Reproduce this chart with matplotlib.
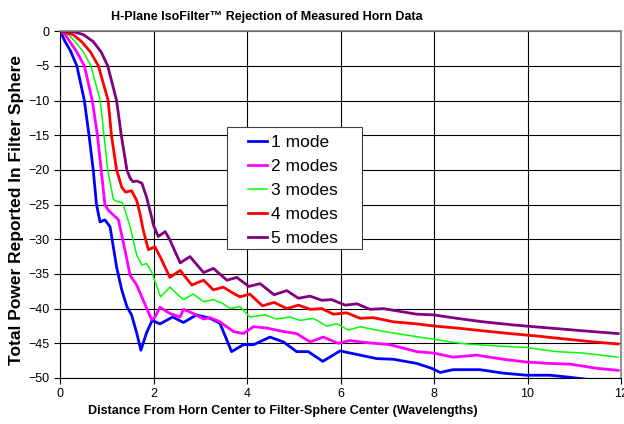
import matplotlib
matplotlib.use("Agg")
import matplotlib.pyplot as plt
from matplotlib.patches import Rectangle

plt.rcParams['font.family'] = ['Liberation Sans', 'DejaVu Sans']

x1 = [0, 0.04, 0.107, 0.22, 0.36, 0.52, 0.62, 0.71, 0.78, 0.856, 0.96, 1.07, 1.21, 1.32, 1.43,
      1.53, 1.64, 1.73, 1.85, 1.97, 2.14, 2.41, 2.64, 2.92, 3.21, 3.42, 3.67, 3.92, 4.14,
      4.49, 4.78, 5.06, 5.31, 5.62, 5.99, 6.42, 6.77, 7.13, 7.63, 7.95, 8.13, 8.41, 8.98,
      9.48, 9.98, 10.48, 10.91, 11.41]
y1 = [0, -0.5, -1.5, -2.8, -5, -10, -15, -20, -25, -27.5, -27.2, -28.2, -34, -37.3, -39.7,
      -40.9, -43.5, -46, -43.5, -41.7, -42.2, -41.2, -42, -40.9, -41.4, -42.1, -46.2, -45.2, -45.2,
      -44.1, -44.8, -46.2, -46.2, -47.6, -46.1, -46.7, -47.2, -47.3, -47.9, -48.6, -49.2, -48.8, -48.8,
      -49.3, -49.6, -49.6, -49.9, -50.3]

x2 = [0, 0.11, 0.21, 0.36, 0.52, 0.69, 0.80, 0.88, 0.96, 1.03, 1.14, 1.25, 1.39, 1.50, 1.64,
      1.78, 1.96, 2.03, 2.14, 2.35, 2.57, 2.64, 2.85, 3.07, 3.21, 3.42, 3.71, 3.92, 4.14,
      4.42, 4.78, 5.06, 5.35, 5.63, 5.95, 6.20, 6.56, 7.06, 7.63, 7.99, 8.41, 8.91, 9.48,
      9.98, 10.48, 10.91, 11.48, 11.94]
y2 = [0, -0.5, -1.5, -3, -5, -10, -15, -20, -25, -25.8, -26.5, -27.2, -31.6, -35.2, -36.6,
      -38.8, -41.6, -41.2, -39.8, -40.7, -41.2, -40.1, -40.7, -41.5, -41.3, -41.9, -43.3, -43.6, -42.6,
      -42.8, -43.3, -43.6, -44.8, -44.1, -45.0, -44.6, -44.9, -45.2, -46.2, -46.4, -47.0, -46.7, -47.3,
      -47.7, -47.9, -48.0, -48.6, -48.9]

x3 = [0, 0.18, 0.32, 0.50, 0.66, 0.86, 0.94, 1.02, 1.14, 1.19, 1.33, 1.38, 1.50, 1.64, 1.75,
      1.85, 1.96, 2.07, 2.15, 2.35, 2.57, 2.64, 2.85, 3.07, 3.28, 3.49, 3.64, 3.85, 4.06,
      4.39, 4.63, 4.92, 5.13, 5.42, 5.70, 5.93, 6.17, 6.42, 6.92, 7.49, 7.99, 8.34, 8.70,
      9.41, 9.98, 10.62, 11.19, 11.94]
y3 = [0, -0.5, -1.5, -3, -5, -10, -15, -20, -24.2, -24.5, -24.7, -25.6, -28.2, -32.3, -33.7,
      -33.5, -34.7, -36.8, -38.3, -36.9, -38.3, -38.7, -37.9, -39.0, -38.7, -39.3, -40.0, -39.7, -41.2,
      -40.9, -41.5, -41.2, -41.7, -41.4, -42.5, -42.2, -43.1, -42.6, -43.3, -43.9, -44.4, -44.8, -45.1,
      -45.4, -45.6, -46.2, -46.4, -47.0]

x4 = [0, 0.28, 0.46, 0.65, 0.82, 1.03, 1.10, 1.21, 1.32, 1.40, 1.53, 1.64, 1.71, 1.78, 1.89,
      2.03, 2.14, 2.35, 2.57, 2.82, 3.07, 3.28, 3.49, 3.71, 3.85, 4.06, 4.33, 4.58, 4.85,
      5.10, 5.35, 5.60, 5.85, 6.13, 6.42, 6.70, 7.13, 7.63, 7.99, 8.49, 9.05, 9.63, 10.12,
      10.84, 11.41, 11.94]
y4 = [0, -0.5, -1.5, -3, -5, -10, -15, -20, -22.5, -23.2, -23.0, -24.4, -26.3, -28.7, -31.5,
      -31.1, -32.5, -35.5, -34.5, -36.6, -35.9, -37.3, -36.9, -37.8, -38.3, -37.9, -39.6, -39.1, -40.0,
      -39.5, -40.1, -40.0, -40.8, -40.6, -41.4, -41.3, -41.9, -42.2, -42.5, -42.8, -43.2, -43.6, -43.9,
      -44.4, -44.8, -45.1]

x5 = [0, 0.3, 0.5, 0.71, 0.88, 1.02, 1.21, 1.31, 1.43, 1.50, 1.56, 1.64, 1.75, 1.85, 1.96,
      2.0, 2.10, 2.25, 2.35, 2.57, 2.78, 3.07, 3.28, 3.57, 3.78, 4.04, 4.28, 4.58, 4.85,
      5.10, 5.35, 5.60, 5.81, 6.10, 6.35, 6.63, 6.92, 7.27, 7.63, 7.99, 8.49, 9.05, 9.77,
      10.48, 11.19, 11.94]
y5 = [0, -0.1, -0.5, -1.5, -3, -5, -10, -15, -20, -21.2, -21.7, -21.6, -21.9, -23.9, -26.8,
      -28.0, -29.6, -28.9, -30.1, -33.4, -32.5, -34.8, -34.2, -35.9, -35.5, -36.8, -36.4, -38.0, -37.4,
      -38.5, -38.2, -38.8, -38.7, -39.5, -39.3, -40.1, -40.0, -40.4, -40.8, -40.9, -41.4, -41.9, -42.4,
      -42.8, -43.2, -43.6]

labels = ["1 mode", "2 modes", "3 modes", "4 modes", "5 modes"]
colors = ["#0000ff", "#ff00ff", "#00ff00", "#ff0000", "#800080"]
widths = [2, 2, 1.1, 2, 2]

fig = plt.figure(figsize=(6.24, 4.24), dpi=100)
ax = fig.add_axes([0.0962, 0.1085, 0.899, 0.818])

for xs, ys, lab, c, lw in zip([x1, x2, x3, x4, x5], [y1, y2, y3, y4, y5], labels, colors, widths):
    ax.plot(xs, ys, color=c, linewidth=lw, label=lab, solid_joinstyle='round')

ax.set_xlim(0, 12)
ax.set_ylim(-50, 0)
ax.set_xticks(range(0, 13, 2))
ax.set_yticks(range(-50, 1, 5))
ax.grid(True, color='black', linewidth=0.8)
ax.set_axisbelow(True)
for s in ['top', 'right']:
    ax.spines[s].set_color('#808080')
    ax.spines[s].set_linewidth(1.2)
for s in ['left', 'bottom']:
    ax.spines[s].set_color('black')
ax.tick_params(direction='out', length=4, labelsize=9)

fig.text(0.427, 0.96, "H-Plane IsoFilter\u2122 Rejection of Measured Horn Data", fontsize=9,
         fontweight='bold', ha='center', va='center')
ax.set_xlabel("Distance From Horn Center to Filter-Sphere Center (Wavelengths)", fontsize=9,
              fontweight='bold')
ax.xaxis.set_label_coords(0.398, -0.077)
ax.set_ylabel("Total Power Reported In Filter Sphere", fontsize=12.5, fontweight='bold')
ax.yaxis.set_label_coords(-0.064, 0.485)

# legend box drawn by hand to match the wide frame of the original
ax.add_patch(Rectangle((0.2977, 0.3718), 0.2406, 0.3507, transform=ax.transAxes,
                       facecolor='white', edgecolor='#404040', linewidth=0.8, zorder=4))
leg = ax.legend(loc='upper left', bbox_to_anchor=(0.335, 0.702), fontsize=12.5, frameon=False,
                handlelength=1.1, handletextpad=0.2, borderpad=0, borderaxespad=0,
                labelspacing=0.52)
leg.set_zorder(5)

fig.savefig("out.png", dpi=100)
